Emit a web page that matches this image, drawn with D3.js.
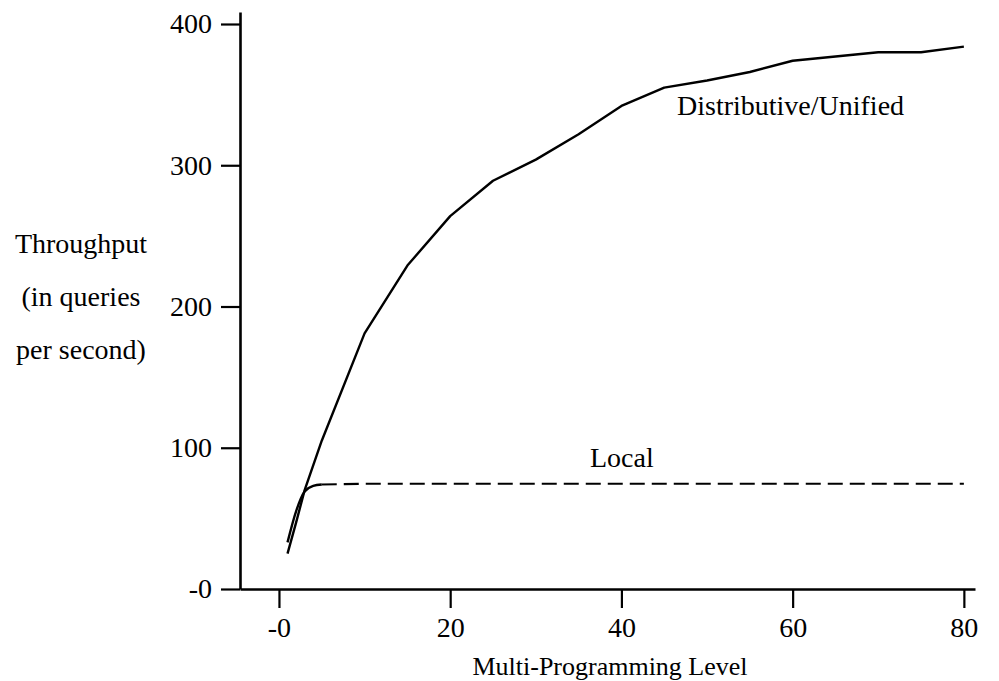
<!DOCTYPE html>
<html>
<head>
<meta charset="utf-8">
<script src="https://cdn.jsdelivr.net/npm/d3@7"></script>
<style>
  body { margin: 0; background: #fff; }
  svg { display: block; }
</style>
</head>
<body>
<script>
// Throughput vs multi-programming level (scanned figure)
const width = 999,
    height = 681;

// data
const distLevels = [1, 2, 3, 5, 10, 15, 20, 25, 30, 35, 40, 45, 50, 55, 60, 65, 70, 75, 80];
const distThroughput = [25, 47, 70, 105, 181, 229, 264, 289, 304, 322, 342, 355, 360, 366, 374, 377, 380, 380, 384];
const localLevels = [1, 2, 3, 4, 5, 10, 20, 30, 40, 50, 60, 70, 80];
const localThroughput = [33, 55, 69, 73, 74, 74.5, 74.5, 74.5, 74.5, 74.5, 74.5, 74.5, 74.5];
const xTicks = [0, 20, 40, 60, 80];
const yTicks = [0, 100, 200, 300, 400];
const yTitle = ["Throughput", "(in queries", "per second)"];

const font = "'Liberation Serif', 'Times New Roman', serif";

let svg = d3.select('body').append('svg')
    .attr('width', width)
    .attr('height', height);

// Scales
const x = d3.scaleLinear()
    .domain([-4.55, 81.3])
    .range([240, 975]);
const y = d3.scaleLinear()
    .domain([0, 408.5])
    .range([589, 12]);

const fmt = d => d === 0 ? "-0" : d;

// Axes
let yAxis = svg.append('g')
    .attr('transform', 'translate(240,0)')
    .call(d3.axisLeft(y).tickValues(yTicks).tickSize(19).tickSizeOuter(0).tickPadding(9).tickFormat(fmt));

let xAxis = svg.append('g')
    .attr('transform', 'translate(0,589)')
    .call(d3.axisBottom(x).tickValues(xTicks).tickSize(19).tickSizeOuter(0).tickPadding(9).tickFormat(fmt));

[xAxis, yAxis].forEach(g => {
    g.attr('font-family', font).attr('font-size', 28);
    g.select('.domain').attr('stroke', '#000').attr('stroke-width', 2.6);
    g.selectAll('.tick line').attr('stroke', '#000').attr('stroke-width', 2.2);
    g.selectAll('.tick text').attr('fill', '#000');
});

// Axis titles
svg.append('text')
    .attr('x', 610)
    .attr('y', 675)
    .attr('text-anchor', 'middle')
    .attr('font-family', font)
    .attr('font-size', 26)
    .text('Multi-Programming Level');

svg.append('g')
    .selectAll('text')
    .data(yTitle)
    .enter()
    .append('text')
    .attr('x', 81)
    .attr('y', (d, i) => 253 + i * 53)
    .attr('text-anchor', 'middle')
    .attr('font-family', font)
    .attr('font-size', 28)
    .text(d => d);

// Lines
let line = d3.line()
    .x(d => x(d[0]))
    .y(d => y(d[1]));

const dist = d3.zip(distLevels, distThroughput);
const local = d3.zip(localLevels, localThroughput);

svg.append('path')
    .datum(dist)
    .attr('fill', 'none')
    .attr('stroke', '#000')
    .attr('stroke-width', 2.4)
    .attr('stroke-linejoin', 'round')
    .attr('d', line);

// local: solid rise, then dashed plateau
svg.append('path')
    .datum(local.filter(d => d[0] <= 5))
    .attr('fill', 'none')
    .attr('stroke', '#000')
    .attr('stroke-width', 2.4)
    .attr('d', line.curve(d3.curveMonotoneX));

svg.append('path')
    .datum(local.filter(d => d[0] >= 5))
    .attr('fill', 'none')
    .attr('stroke', '#000')
    .attr('stroke-width', 2.2)
    .attr('stroke-dasharray', '15,7')
    .attr('d', line.curve(d3.curveLinear));

// Series labels
svg.append('text')
    .attr('x', 677)
    .attr('y', 115)
    .attr('font-family', font)
    .attr('font-size', 28)
    .text('Distributive/Unified');

svg.append('text')
    .attr('x', 590)
    .attr('y', 467)
    .attr('font-family', font)
    .attr('font-size', 28)
    .text('Local');
</script>
</body>
</html>
